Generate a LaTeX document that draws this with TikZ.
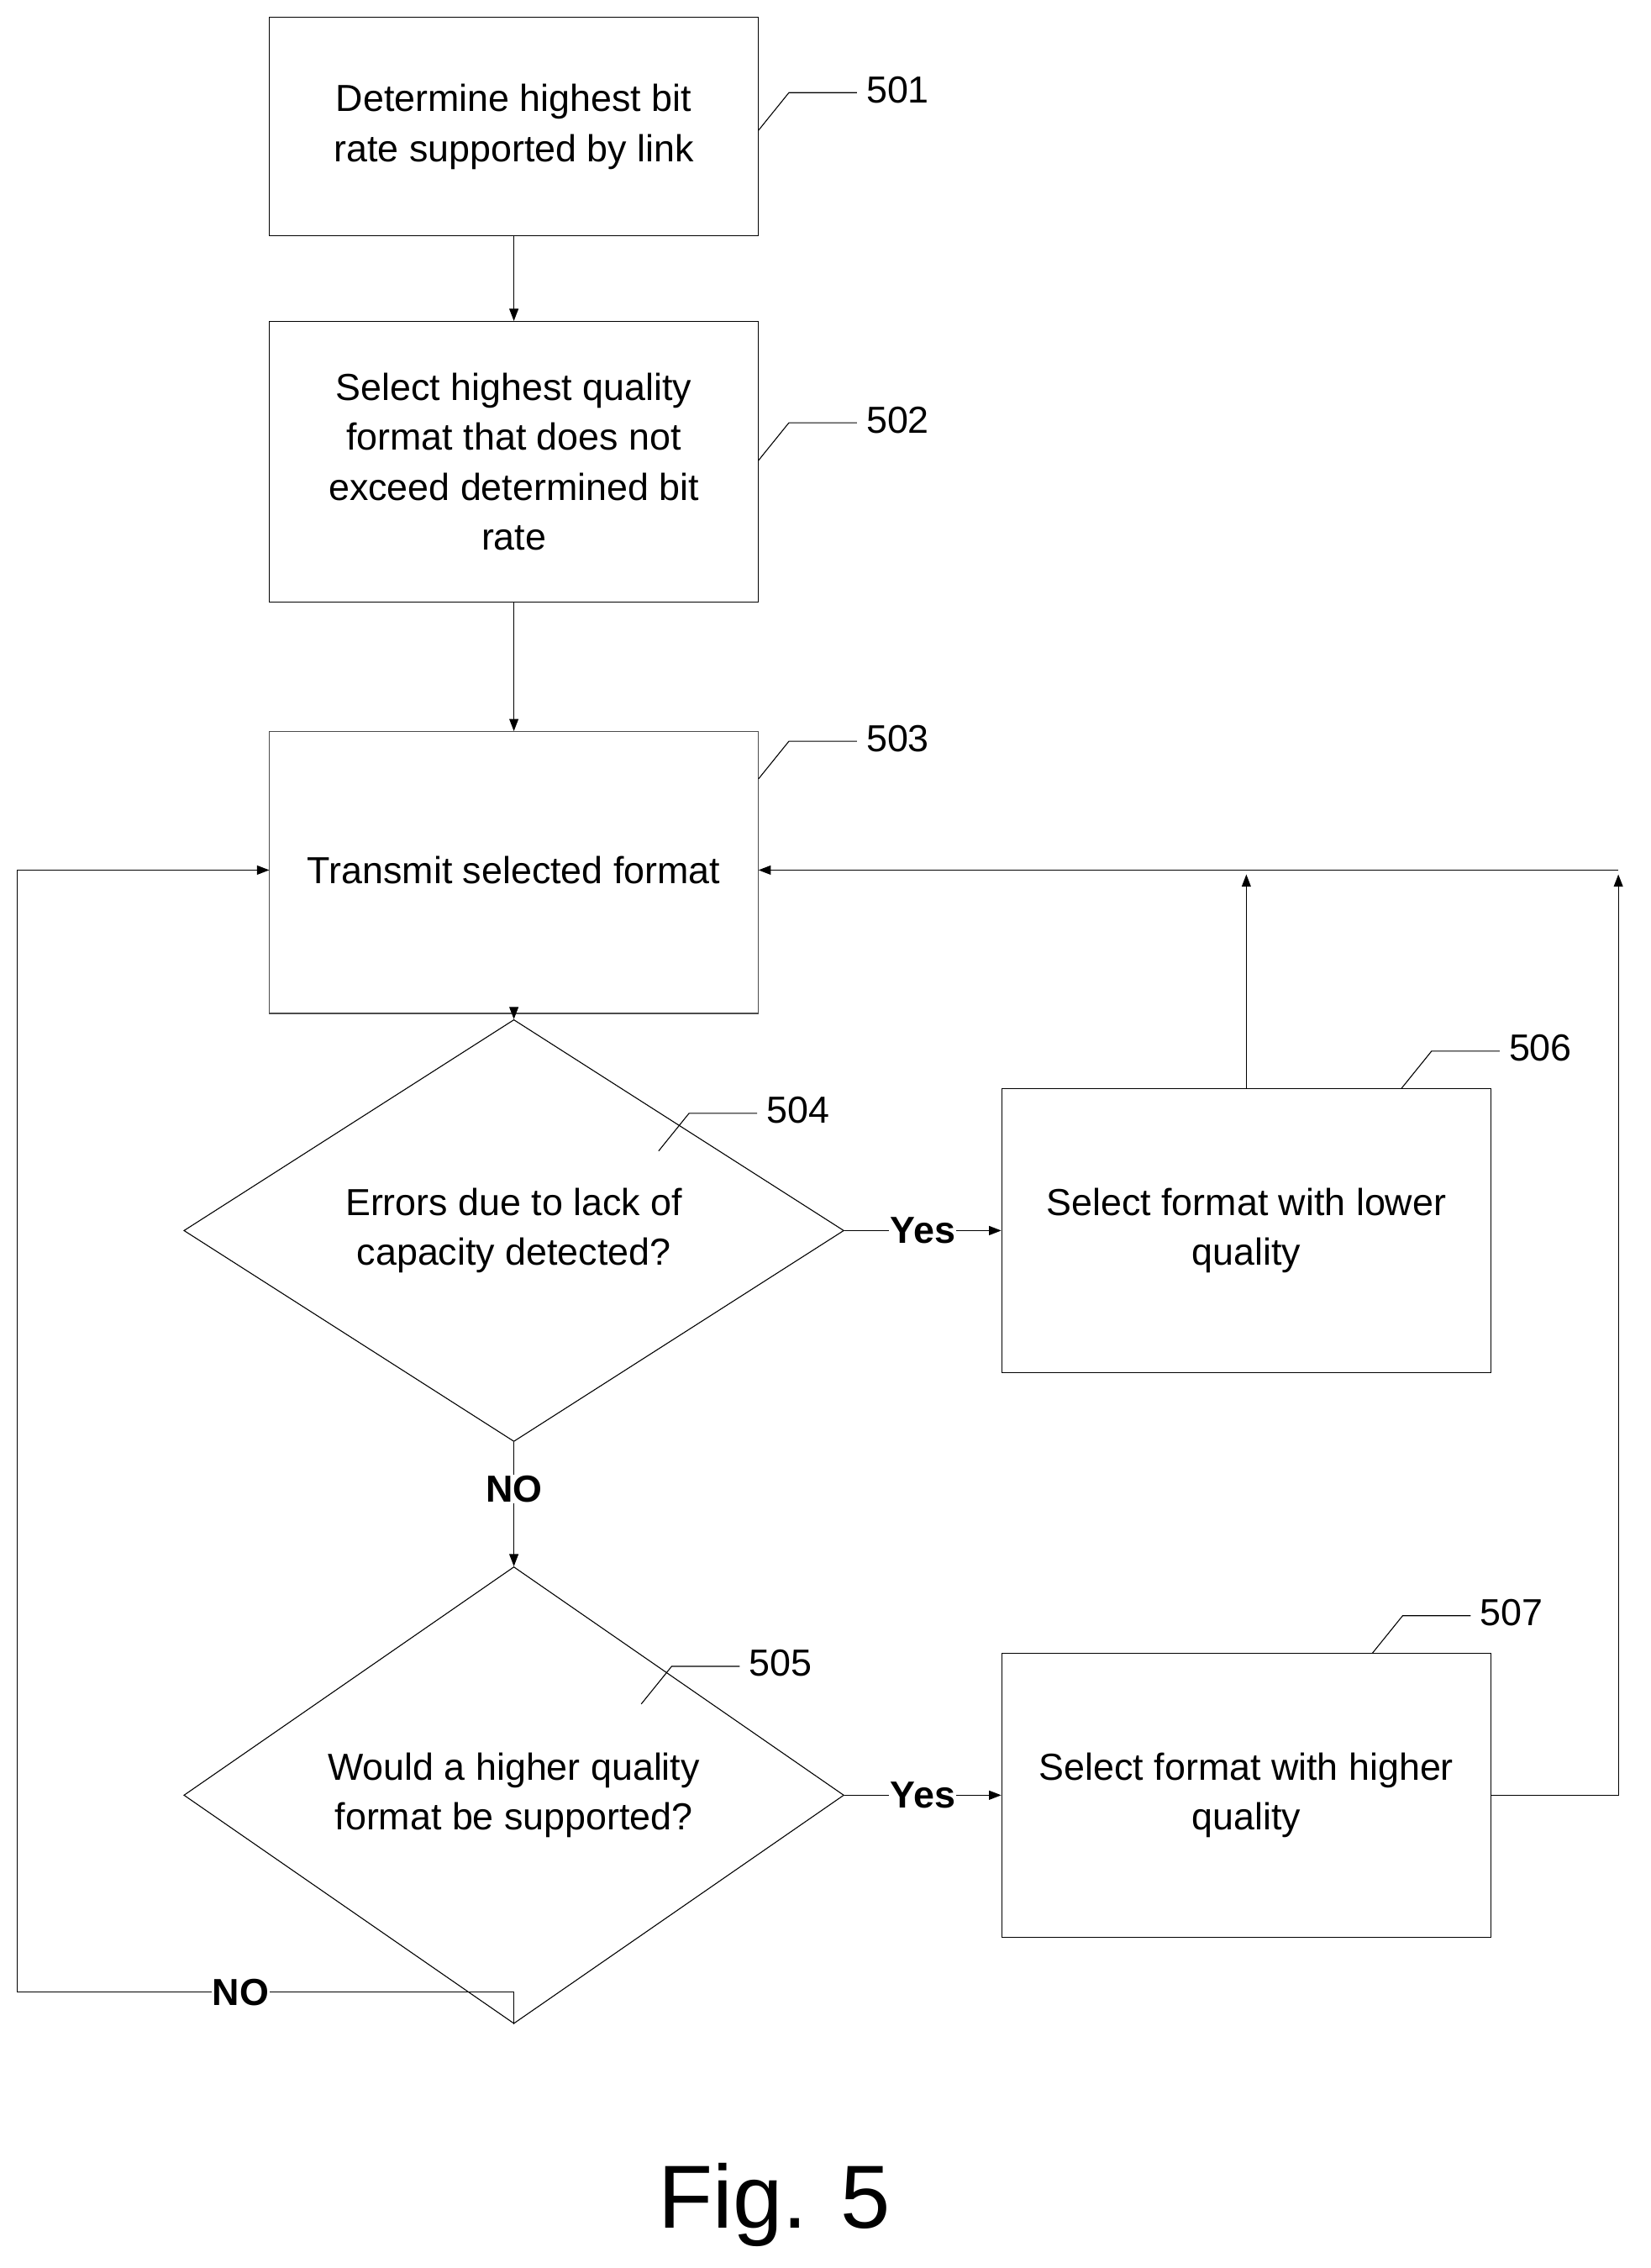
\documentclass[tikz,border=0pt]{standalone}
\usepackage{fontspec}
\setmainfont{Liberation Sans}
\usetikzlibrary{shapes.geometric,arrows.meta}
\begin{document}
\begin{tikzpicture}[x=0.05cm,y=-0.05cm,
  every node/.style={font=\fontsize{37}{49}\selectfont},
  box/.style={draw,line width=0.9pt,align=center},
  ln/.style={line width=0.9pt},
  arr/.style={ln,-{Triangle[length=12pt,width=9pt]}},
  lbl/.style={font=\fontsize{37}{49}\selectfont\bfseries,fill=white,inner sep=1pt}]
\useasboundingbox (0,0) rectangle (1140,1566.6);
\node[box,minimum width=16.9cm,minimum height=7.55cm] (b1) at (355,87.5) {Determine highest bit\\rate supported by link};
\node[box,minimum width=16.9cm,minimum height=9.7cm] (b2) at (355,319) {Select highest quality\\format that does not\\exceed determined bit\\rate};
\draw[ln,draw=black!70] (186,505) rectangle (524,700);
\coordinate (b3n) at (355,505); \coordinate (b3s) at (355,700);
\coordinate (b3w) at (186,601); \coordinate (b3e) at (524,601);
\node (b3) at (355,601) {Transmit selected format};
\node[draw,ln,diamond,minimum width=22.8cm,minimum height=10cm,inner sep=0pt,align=center] (d4) at (355,850) {Errors due to lack of\\capacity detected?};
\node[box,minimum width=16.9cm,minimum height=9.8cm] (b6) at (861,850) {};
\node[align=center] at (861,850) {Select format with lower\\quality};
\node[draw,ln,diamond,minimum width=22.8cm,minimum height=10.2cm,inner sep=0pt,align=center] (d5) at (355,1240) {Would a higher quality\\format be supported?};
\node[box,minimum width=16.9cm,minimum height=9.8cm] (b7) at (861,1240) {};
\node[align=center] at (861,1240) {Select format with higher\\quality};
% arrows
\draw[arr] (b1.south) -- (b2.north);
\draw[arr] (b2.south) -- (b3n);
\draw[arr] (b3s) -- (d4.north);
\draw[arr] (d4.east) -- node[lbl] {Yes} (b6.west);
\draw[arr] (d4.south) -- node[lbl,pos=0.38] {NO} (d5.north);
\draw[arr] (d5.east) -- node[lbl] {Yes} (b7.west);
\coordinate (c1) at (355,1376); \coordinate (c2) at (12,1376); \coordinate (c3) at (12,601);
\draw[arr] (d5.south) -- (c1) -- node[lbl,pos=0.55] {NO} (c2) -- (c3) -- (b3w);
\draw[arr] (b6.north) -- (861,604);
\coordinate (e1) at (1118,1240); \coordinate (e2) at (1118,601);
\draw[arr] (b7.east) -- (e1) -- (1118,604);
\draw[arr] (e2) -- (b3e);
% reference numerals
\foreach \x/\y/\n in {524/90/501,524/318/502,524/538/503,455/795/504,968/752/506,443/1177/505,948/1142/507}{
  \draw[ln] (\x,\y) -- (\x+21,\y-26) -- (\x+68,\y-26);
  \node[anchor=west] at (\x+72,\y-28) {\n};
}
\node at (535,1523) {\fontsize{88}{100}\selectfont Fig. 5};
\end{tikzpicture}
\end{document}
